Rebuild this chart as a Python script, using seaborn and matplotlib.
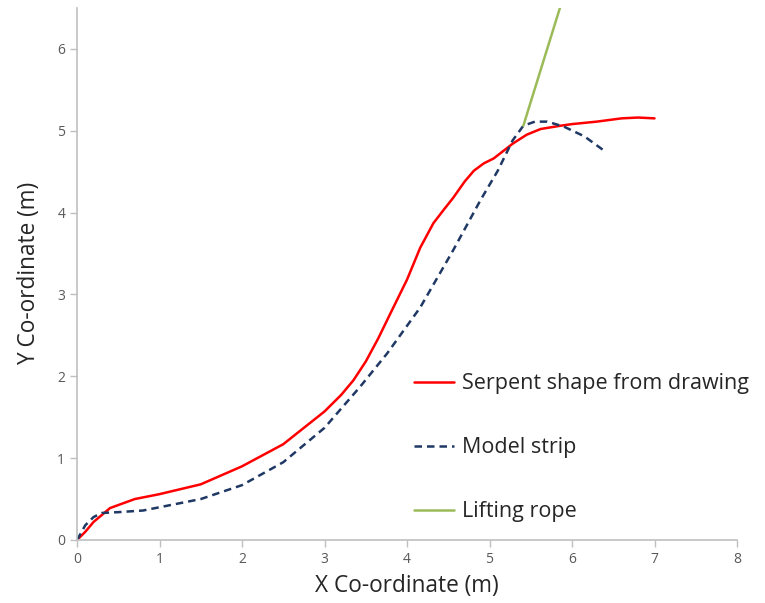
import matplotlib
matplotlib.use("Agg")
import matplotlib.pyplot as plt
import pandas as pd
import seaborn as sns

serpent_x = [0, 0.1, 0.2, 0.4, 0.7, 1.0, 1.5, 2.0, 2.5, 3.0, 3.2, 3.35, 3.5, 3.65, 3.8, 4.0,
             4.16, 4.32, 4.45, 4.56, 4.7, 4.81, 4.93, 5.05, 5.28, 5.45, 5.62, 5.86,
             6.0, 6.3, 6.6, 6.8, 7.0]
serpent_y = [0, 0.1, 0.22, 0.39, 0.5, 0.56, 0.68, 0.9, 1.17, 1.57, 1.77, 1.95, 2.18, 2.46, 2.77, 3.18,
             3.57, 3.87, 4.04, 4.18, 4.38, 4.51, 4.6, 4.66, 4.84, 4.95, 5.02, 5.06,
             5.08, 5.11, 5.15, 5.16, 5.15]

strip_x = [0, 0.1, 0.2, 0.3, 0.5, 0.8, 1.0, 1.5, 2.0, 2.5, 3.0, 3.43, 3.76, 4.16, 4.56,
           4.89, 5.1, 5.28, 5.41, 5.55, 5.7, 5.9, 6.15, 6.41]
strip_y = [0, 0.18, 0.28, 0.33, 0.34, 0.36, 0.4, 0.5, 0.67, 0.95, 1.37, 1.87, 2.28, 2.84, 3.54,
           4.15, 4.51, 4.88, 5.06, 5.11, 5.11, 5.05, 4.93, 4.74]

rope_x = [5.41, 5.9]
rope_y = [5.06, 6.65]

sns.set_style("white")
plt.rcParams['font.family'] = ['Open Sans', 'DejaVu Sans']

fig = plt.figure(figsize=(7.65, 6.03), dpi=100)
ax = fig.add_axes([0.1007, 0.1045, 0.8627, 0.8825])

serpent = pd.DataFrame({"x": serpent_x, "y": serpent_y})
strip = pd.DataFrame({"x": strip_x, "y": strip_y})
rope = pd.DataFrame({"x": rope_x, "y": rope_y})

sns.lineplot(data=serpent, x="x", y="y", sort=False, color="#ff0000", lw=1.8,
             label="Serpent shape from drawing", ax=ax)
sns.lineplot(data=strip, x="x", y="y", sort=False, color="#1f3864", lw=1.8,
             label="Model strip", ax=ax)
sns.lineplot(data=rope, x="x", y="y", sort=False, color="#9bbb59", lw=1.8,
             label="Lifting rope", ax=ax)
ax.lines[1].set_dashes((3, 2))

ax.set_xlim(0, 8)
ax.set_ylim(0, 6.5)
ax.set_xticks(range(0, 9))
ax.set_yticks(range(0, 7))

for s in ["top", "right"]:
    ax.spines[s].set_visible(False)
for s in ["left", "bottom"]:
    ax.spines[s].set_color("#bfbfbf")
    ax.spines[s].set_linewidth(1.2)
ax.tick_params(axis="both", direction="out", length=5, width=1.0, color="#bfbfbf",
               labelsize=10, labelcolor="#595959", bottom=True, left=True)

ax.set_xlabel("X Co-ordinate (m)", fontsize=16.3, color="#262626", labelpad=5)
ax.set_ylabel("Y Co-ordinate (m)", fontsize=16.3, color="#262626", labelpad=12)

leg = ax.legend(loc="center left", bbox_to_anchor=(0.494, 0.173), frameon=False, fontsize=15.5,
                borderpad=0, handlelength=1.86, handletextpad=0.37, labelspacing=2.0)
leg.get_lines()[1].set_dashes((3, 2))

fig.savefig("out.png", dpi=100)
